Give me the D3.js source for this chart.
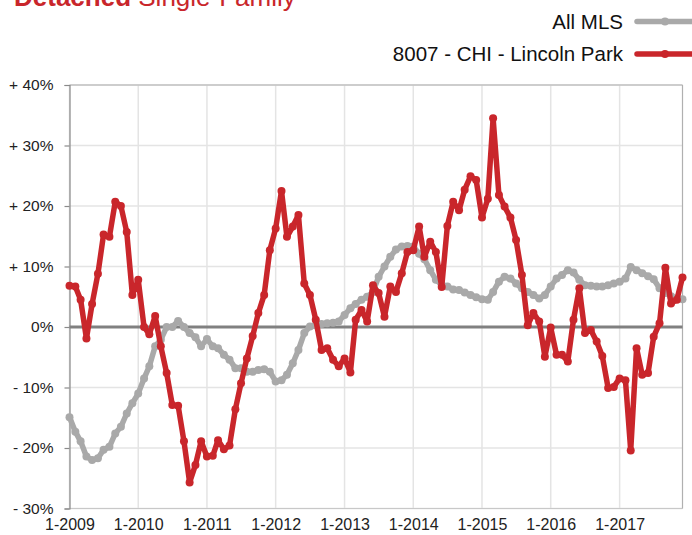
<!DOCTYPE html>
<html>
<head>
<meta charset="utf-8">
<script src="https://cdn.jsdelivr.net/npm/d3@7"></script>
<style>
  body { margin: 0; background: #fff; }
  text { font-family: "Liberation Sans", Arial, Helvetica, sans-serif; }
</style>
</head>
<body>
<div id="chart"></div>
<script>
// monthly values, Jan 2009 .. Dec 2017
var startMonth = new Date(2009, 0, 1);
var endMonth = new Date(2017, 11, 1);

var allMLS = [
  -14.9, -17.3, -18.9, -21.4, -22.0, -21.7, -20.3, -19.8, -17.6, -16.5, -14.3, -12.6,
  -11.0, -8.5, -6.5, -3.2, -2.1, 0.0, 0.0, 1.0, 0.0, -1.0, -1.7, -3.2,
  -2.0, -3.2, -3.5, -4.6, -5.4, -6.8, -6.8, -7.4, -7.4, -7.1, -7.0, -7.4,
  -9.0, -8.8, -7.9, -6.0, -3.8, -1.0, 0.1, 0.3, 0.5, 0.6, 0.7, 0.9,
  2.0, 3.1, 3.8, 4.5, 5.0, 5.8, 8.3, 10.0, 11.6, 12.8, 13.3, 13.4,
  13.3, 12.1, 11.2, 9.4, 7.8, 7.0, 6.7, 6.2, 6.1, 5.7, 5.3, 4.9,
  4.6, 4.5, 5.8, 7.5, 8.3, 8.0, 7.2, 6.4, 5.8, 5.3, 4.7, 5.3,
  6.7, 8.0, 8.6, 9.4, 9.0, 7.8, 6.9, 6.8, 6.7, 6.7, 6.9, 7.2,
  7.5, 8.0, 9.9, 9.4, 8.9, 8.4, 7.9, 6.4, 5.6, 5.1, 4.7, 4.6
];

var lincolnPark = [
  6.8, 6.7, 4.5, -1.9, 3.8, 8.8, 15.3, 14.9, 20.7, 20.0, 15.7, 5.3,
  7.8, 0.0, -1.2, 1.8, -3.2, -7.6, -12.9, -13.0, -18.9, -25.7, -22.8, -18.9,
  -21.4, -21.3, -18.7, -20.2, -19.6, -13.6, -9.3, -5.2, -1.5, 2.3, 5.3, 12.7,
  16.3, 22.5, 14.9, 16.6, 18.5, 7.2, 5.3, 1.2, -3.8, -3.5, -5.4, -6.5,
  -5.2, -7.5, 1.2, 2.8, 0.9, 6.9, 5.6, 1.7, 6.7, 5.8, 8.9, 12.4,
  12.7, 16.6, 11.6, 14.1, 12.4, 6.6, 16.7, 20.7, 19.3, 22.7, 24.9, 24.3,
  18.1, 21.2, 34.5, 21.8, 19.9, 18.1, 14.4, 8.6, 0.3, 2.3, 0.9, -4.9,
  -0.1, -4.6, -4.6, -5.7, 1.2, 6.4, -1.0, -0.5, -2.4, -4.8, -10.1, -9.9,
  -8.5, -8.8, -20.4, -3.5, -7.9, -7.6, -1.6, 0.6, 9.8, 3.9, 4.5, 8.2
];

var yTicks = [-30, -20, -10, 0, 10, 20, 30, 40];
var seriesNames = ["All MLS", "8007 - CHI - Lincoln Park"];
var seriesColors = ["#a9a9a9", "#c9262b"];

var months = d3.timeMonth.range(startMonth, d3.timeMonth.offset(endMonth, 1));

var width = 692;
var height = 535;

var svg = d3.select("#chart")
  .append("svg")
  .attr("width", width)
  .attr("height", height);

/* title, cut off at the top like the source */
var title = svg.append("text")
  .attr("x", 14)
  .attr("y", 6)
  .attr("fill", "#c9262b")
  .style("font-size", "26px");
title.append("tspan").style("font-weight", "bold").text("Detached");
title.append("tspan").text(" Single-Family");

var x = d3.scaleTime()
  .domain([startMonth, endMonth])
  .range([69.5, 682.5]);

var y = d3.scaleLinear()
  .domain([-30, 40])
  .range([508.5, 85]);

// gridlines
svg.append("g")
  .selectAll("line")
  .data(yTicks)
  .enter().append("line")
  .attr("x1", x.range()[0])
  .attr("x2", x.range()[1])
  .attr("y1", function (d) { return y(d); })
  .attr("y2", function (d) { return y(d); })
  .attr("stroke", "#e4e4e4")
  .attr("stroke-width", 1.5);

svg.append("g")
  .selectAll("line")
  .data(x.ticks(d3.timeYear.every(1)))
  .enter().append("line")
  .attr("x1", function (d) { return x(d); })
  .attr("x2", function (d) { return x(d); })
  .attr("y1", y(40))
  .attr("y2", y(-30))
  .attr("stroke", "#e4e4e4")
  .attr("stroke-width", 1.5);

// frame
svg.append("line")
  .attr("x1", x.range()[0]).attr("x2", x.range()[1])
  .attr("y1", y(40)).attr("y2", y(40))
  .attr("stroke", "#b0b0b0").attr("stroke-width", 1.2);
svg.append("line")
  .attr("x1", x.range()[0]).attr("x2", x.range()[1])
  .attr("y1", y(-30)).attr("y2", y(-30))
  .attr("stroke", "#c8c8c8").attr("stroke-width", 1.2);
svg.append("line")
  .attr("x1", x.range()[1]).attr("x2", x.range()[1])
  .attr("y1", y(40)).attr("y2", y(-30))
  .attr("stroke", "#b0b0b0").attr("stroke-width", 1.2);

// y axis
var yAxis = svg.append("g")
  .attr("transform", "translate(" + x.range()[0] + ",0)")
  .call(d3.axisLeft(y)
    .tickValues(yTicks)
    .tickSize(5)
    .tickPadding(11)
    .tickFormat(function (d) {
      if (d > 0) return "+ " + d + "%";
      if (d < 0) return "- " + Math.abs(d) + "%";
      return "0%";
    }));
yAxis.select(".domain").attr("stroke", "#8a8a8a").attr("stroke-width", 1.2);
yAxis.selectAll(".tick line").attr("stroke", "#8a8a8a").attr("stroke-width", 1.2);
yAxis.selectAll(".tick text")
  .attr("fill", "#222")
  .style("font-size", "15.5px");

// x axis labels
var xAxis = svg.append("g")
  .attr("transform", "translate(0," + y(-30) + ")")
  .call(d3.axisBottom(x)
    .ticks(d3.timeYear.every(1))
    .tickSize(0)
    .tickPadding(10)
    .tickFormat(d3.timeFormat("1-%Y")));
xAxis.select(".domain").remove();
xAxis.selectAll(".tick text")
  .attr("fill", "#222")
  .style("font-size", "16px");

// zero line
svg.append("line")
  .attr("x1", x.range()[0]).attr("x2", x.range()[1])
  .attr("y1", y(0)).attr("y2", y(0))
  .attr("stroke", "#808080")
  .attr("stroke-width", 3);

var line = d3.line()
  .x(function (d, i) { return x(months[i]); })
  .y(function (d) { return y(d); });

[allMLS, lincolnPark].forEach(function (series, k) {
  svg.append("path")
    .datum(series)
    .attr("fill", "none")
    .attr("stroke", seriesColors[k])
    .attr("stroke-width", 5.5)
    .attr("stroke-linejoin", "round")
    .attr("d", line);

  svg.append("g")
    .selectAll("circle")
    .data(series)
    .enter().append("circle")
    .attr("cx", function (d, i) { return x(months[i]); })
    .attr("cy", function (d) { return y(d); })
    .attr("r", 4)
    .attr("fill", seriesColors[k]);
});

// legend
var legend = svg.append("g")
  .selectAll("g")
  .data(seriesNames)
  .enter().append("g")
  .attr("transform", function (d, i) { return "translate(0," + (21.5 + i * 32.5) + ")"; });

legend.append("text")
  .attr("x", 623)
  .attr("y", 7)
  .attr("text-anchor", "end")
  .attr("fill", "#111")
  .style("font-size", "20.5px")
  .text(function (d) { return d; });

legend.append("line")
  .attr("x1", 637)
  .attr("x2", 700)
  .attr("stroke", function (d, i) { return seriesColors[i]; })
  .attr("stroke-width", 5.5)
  .attr("stroke-linecap", "round");

legend.append("circle")
  .attr("cx", 665)
  .attr("r", 4)
  .attr("fill", function (d, i) { return seriesColors[i]; });
</script>
</body>
</html>
